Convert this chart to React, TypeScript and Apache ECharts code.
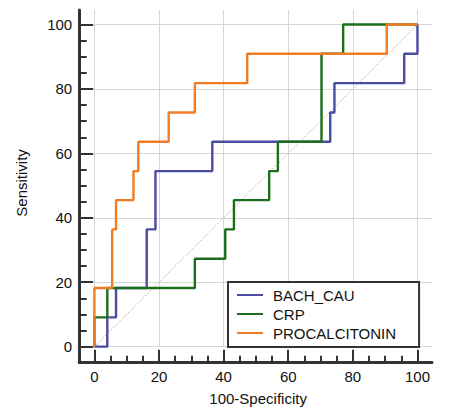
import * as echarts from "echarts";
import { useEffect, useRef } from "react";

const WIDTH = 463;
const HEIGHT = 413;

const SERIES_NAMES = ["BACH_CAU", "CRP", "PROCALCITONIN"];
const COLORS = ["#4b4ba3", "#1c6e1c", "#f27c24"];

// ROC points: 100-Specificity (x) and Sensitivity (y) after each vertical step
const bachCauX = [0, 4.0, 6.7, 16.2, 18.9, 36.5, 73.0, 74.3, 95.9, 100];
const bachCauY = [0, 9.1, 18.2, 36.4, 54.5, 63.6, 72.7, 81.8, 90.9, 100];
const crpX = [0, 0, 4.0, 31.1, 40.5, 43.2, 54.1, 56.8, 70.3, 77.0, 100];
const crpY = [0, 9.1, 18.2, 27.3, 36.4, 45.5, 54.5, 63.6, 90.9, 100, 100];
const pctX = [0, 0, 5.5, 6.7, 12.1, 13.6, 23.0, 31.1, 47.3, 90.5, 100];
const pctY = [0, 18.2, 36.4, 45.5, 54.5, 63.6, 72.7, 81.8, 90.9, 100, 100];
const diagonal = [0, 100];

const MAJOR_TICKS = [0, 20, 40, 60, 80, 100];
const MINOR_TICKS = [5, 10, 15, 25, 30, 35, 45, 50, 55, 65, 70, 75, 85, 90, 95];

// axis frame reaches a little past the data range on both ends
const AXIS_MIN = -4.7;
const AXIS_MAX = 104.5;
const FRAME_LEFT = 79.2;
const FRAME_RIGHT = 432;
const FRAME_TOP = 10;
const FRAME_BOTTOM = 361.8;

const FONT = "'Liberation Sans', Arial, sans-serif";
const AXIS_COLOR = "#333";

function zip(xs: number[], ys: number[]): number[][] {
  return xs.map((x, i) => [x, ys[i]]);
}

export default function App() {
  const ref = useRef<HTMLDivElement>(null);

  useEffect(() => {
    if (!ref.current) return;
    const chart = echarts.init(ref.current, null, { renderer: "svg" });

    const span = AXIS_MAX - AXIS_MIN;
    const sx = (FRAME_RIGHT - FRAME_LEFT) / span;
    const sy = (FRAME_BOTTOM - FRAME_TOP) / span;
    const dataLeft = FRAME_LEFT - AXIS_MIN * sx;
    const dataBottom = FRAME_BOTTOM + AXIS_MIN * sy;

    const frameAxis = (isX: boolean, major: boolean) => ({
      type: "value" as const,
      gridIndex: 0,
      min: AXIS_MIN,
      max: AXIS_MAX,
      position: isX ? ("bottom" as const) : ("left" as const),
      offset: 0,
      axisLine: {
        show: major,
        onZero: false,
        lineStyle: { color: AXIS_COLOR, width: 3 },
      },
      axisTick: {
        show: true,
        inside: true,
        length: major ? (isX ? 12 : 14) : isX ? 6 : 7.5,
        customValues: major ? MAJOR_TICKS : MINOR_TICKS,
        lineStyle: { color: AXIS_COLOR, width: 2 },
      },
      axisLabel: {
        show: major,
        customValues: MAJOR_TICKS,
        fontSize: 15,
        color: "#111",
        margin: 7,
        fontFamily: FONT,
      },
      splitLine: { show: false },
      ...(major
        ? {
            name: isX ? "100-Specificity" : "Sensitivity",
            nameLocation: "middle" as const,
            nameGap: isX ? 29 : 50,
            nameTextStyle: {
              fontSize: 15,
              color: "#111",
              fontFamily: FONT,
              padding: isX ? [0, 0, 0, 5] : [0, 0, 0, 6],
            },
          }
        : {}),
    });

    const dataAxis = {
      type: "value" as const,
      gridIndex: 1,
      min: 0,
      max: AXIS_MAX,
      interval: 20,
      axisLine: { show: false, onZero: false },
      axisTick: { show: false },
      axisLabel: { show: false },
      splitLine: {
        show: true,
        showMaxLine: false,
        lineStyle: { color: "#d6d6d6", width: 1 },
      },
    };

    const curves = [zip(bachCauX, bachCauY), zip(crpX, crpY), zip(pctX, pctY)];

    chart.setOption({
      animation: false,
      textStyle: { fontFamily: FONT },
      grid: [
        {
          left: FRAME_LEFT,
          top: FRAME_TOP,
          width: FRAME_RIGHT - FRAME_LEFT,
          height: FRAME_BOTTOM - FRAME_TOP,
          outerBoundsMode: "none",
        },
        {
          left: dataLeft,
          top: FRAME_TOP,
          width: FRAME_RIGHT - dataLeft,
          height: dataBottom - FRAME_TOP,
          outerBoundsMode: "none",
        },
      ],
      xAxis: [frameAxis(true, true), frameAxis(true, false), dataAxis],
      yAxis: [frameAxis(false, true), frameAxis(false, false), dataAxis],
      legend: {
        data: SERIES_NAMES,
        orient: "vertical",
        left: 228,
        top: 282,
        itemWidth: 26,
        itemHeight: 14,
        itemGap: 4,
        padding: [5.5, 23, 6.5, 8],
        backgroundColor: "#fff",
        borderColor: "#333",
        borderWidth: 2,
        borderRadius: 0,
        itemStyle: { opacity: 0 },
        lineStyle: { width: 2 },
        textStyle: {
          fontSize: 15,
          lineHeight: 15,
          color: "#111",
          padding: [0, 0, 0, 5],
          fontFamily: FONT,
        },
      },
      series: [
        {
          type: "line",
          name: "diagonal",
          xAxisIndex: 2,
          yAxisIndex: 2,
          data: zip(diagonal, diagonal),
          symbol: "none",
          silent: true,
          clip: false,
          lineStyle: { color: "#a8869a", width: 1, type: [1, 2] },
        },
        ...curves.map((data, i) => ({
          type: "line" as const,
          name: SERIES_NAMES[i],
          xAxisIndex: 2,
          yAxisIndex: 2,
          data,
          step: "end" as const,
          symbol: "none",
          clip: false,
          color: COLORS[i],
          lineStyle: { color: COLORS[i], width: 2.4 },
        })),
      ],
    });

    return () => chart.dispose();
  }, []);

  return (
    <div
      ref={ref}
      style={{ position: "fixed", left: 0, top: 0, width: WIDTH, height: HEIGHT, background: "#fff" }}
    />
  );
}
